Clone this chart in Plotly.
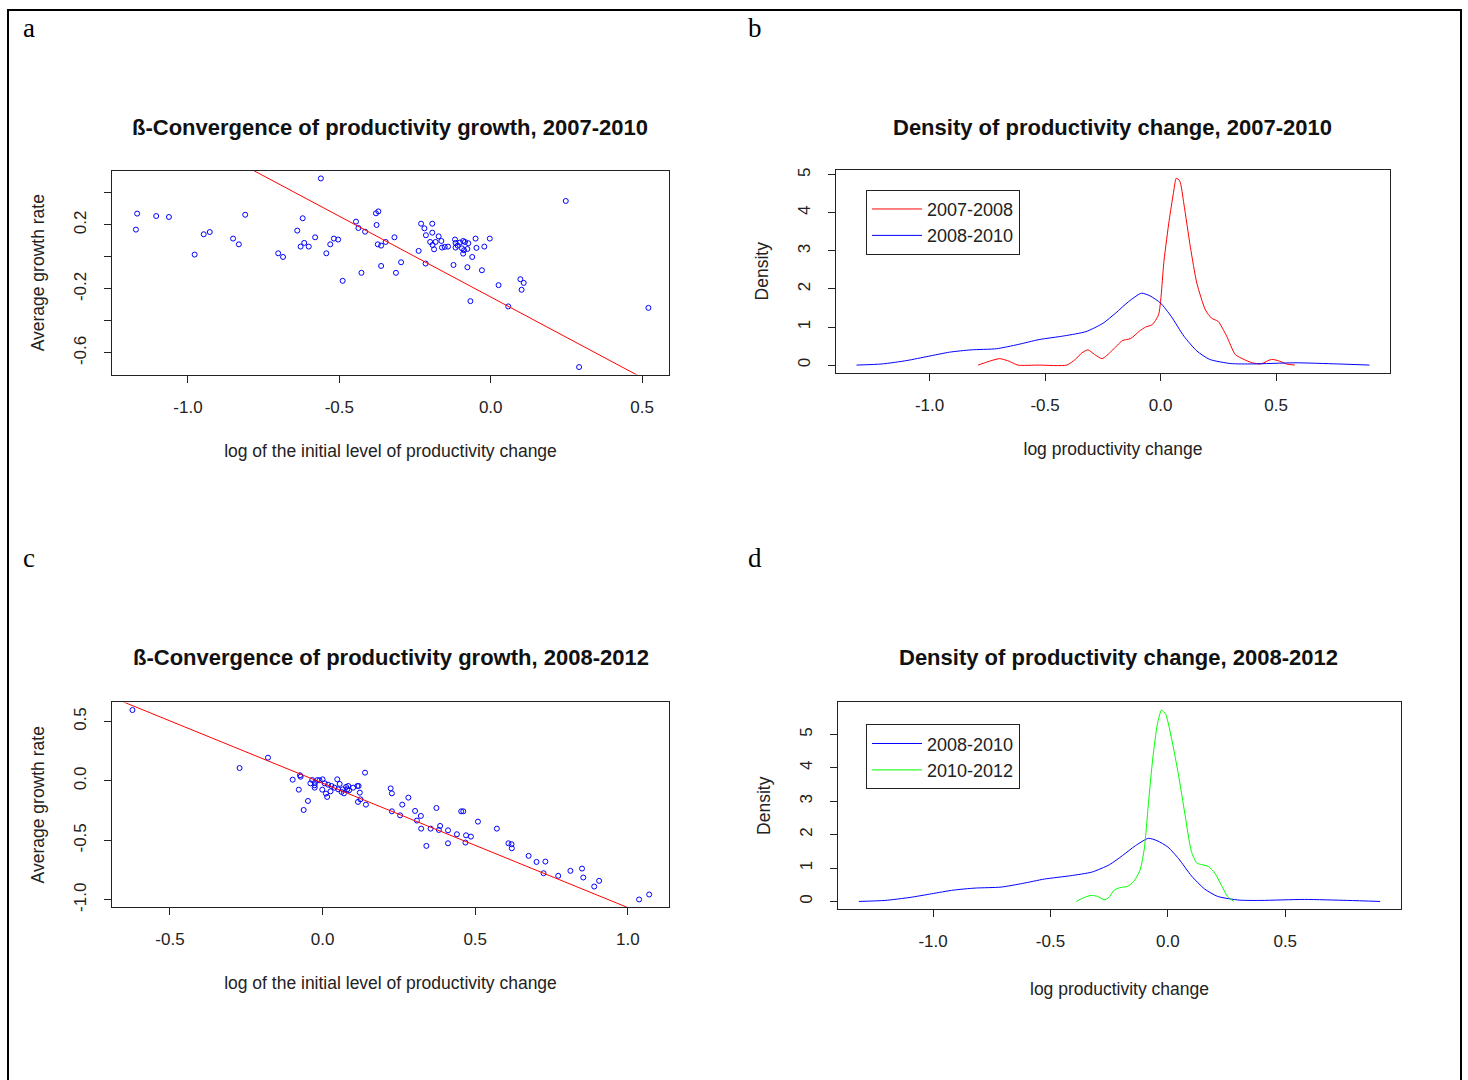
import plotly.graph_objects as go

# ---------------- Panel a: beta-convergence 2007-2010 ----------------
a_x = [-1.172, -1.168, -1.105, -1.063, -0.811, -0.978, -0.948, -0.928, -0.851, -0.832,
       -0.702, -0.686, -0.639, -0.621, -0.628, -0.616, -0.601, -0.580, -0.561, -0.543,
       -0.530, -0.518, -0.504, -0.489, -0.445, -0.437, -0.427, -0.415, -0.379, -0.371,
       -0.377, -0.373, -0.362, -0.362, -0.347, -0.318, -0.313, -0.296, -0.238, -0.230,
       -0.219, -0.214, -0.215, -0.193, -0.193, -0.200, -0.192, -0.187, -0.182, -0.172,
       -0.163, -0.161, -0.152, -0.141, -0.123, -0.118, -0.116, -0.116, -0.109, -0.102,
       -0.095, -0.091, -0.091, -0.088, -0.085, -0.077, -0.077, -0.074, -0.067, -0.061,
       -0.050, -0.047, -0.029, -0.021, -0.003, 0.026, 0.058, 0.098, 0.109, 0.102,
       0.248, 0.292, 0.521]
a_y = [0.171, 0.271, 0.256, 0.250, 0.264, 0.015, 0.142, 0.156, 0.115, 0.079,
       0.023, 0.000, 0.165, 0.242, 0.065, 0.088, 0.065, 0.123, 0.491, 0.023,
       0.079, 0.115, 0.109, -0.149, 0.221, 0.181, -0.099, 0.158, 0.273, 0.285,
       0.200, 0.079, 0.071, -0.056, 0.094, 0.123, -0.099, -0.033, 0.038, 0.208,
       0.179, 0.136, -0.041, 0.208, 0.152, 0.094, 0.075, 0.048, 0.094, 0.129,
       0.100, 0.059, 0.063, 0.065, -0.050, 0.109, 0.088, 0.059, 0.071, 0.090,
       0.054, 0.100, 0.021, 0.042, 0.094, 0.050, -0.064, 0.086, -0.276, 0.000,
       0.115, 0.057, -0.083, 0.065, 0.115, -0.176, -0.309, -0.139, -0.162, -0.205,
       0.350, -0.688, -0.318]
a_fit = {"intercept": -0.250, "slope": -1.009}

# ---------------- Panel c: beta-convergence 2008-2012 ----------------
c_x = [-0.623, -0.272, -0.179, -0.098, -0.078, -0.074, -0.072, -0.062, -0.048, -0.040,
       -0.034, -0.026, -0.026, -0.025, -0.017, -0.010, -0.001, 0.000, 0.007, 0.011,
       0.015, 0.018, 0.026, 0.029, 0.039, 0.048, 0.051, 0.056, 0.062, 0.066,
       0.070, 0.077, 0.081, 0.087, 0.084, 0.100, 0.114, 0.118, 0.116, 0.122,
       0.124, 0.139, 0.142, 0.223, 0.227, 0.227, 0.254, 0.261, 0.281, 0.303,
       0.309, 0.322, 0.323, 0.340, 0.354, 0.373, 0.381, 0.385, 0.411, 0.411,
       0.440, 0.454, 0.461, 0.468, 0.470, 0.486, 0.509, 0.571, 0.609, 0.619,
       0.620, 0.675, 0.701, 0.730, 0.724, 0.772, 0.812, 0.850, 0.854, 0.906,
       0.890, 1.037, 1.070]
c_y = [0.597, 0.109, 0.196, 0.011, -0.073, 0.048, 0.036, -0.244, -0.168, -0.020,
       0.008, -0.036, -0.056, -0.014, 0.008, 0.006, -0.073, 0.014, -0.020, -0.106,
       -0.134, -0.031, -0.087, -0.042, -0.056, 0.014, -0.070, -0.025, -0.092, -0.070,
       -0.104, -0.050, -0.070, -0.078, -0.042, -0.056, -0.042, -0.042, -0.176, -0.098,
       -0.154, 0.070, -0.199, -0.062, -0.104, -0.255, -0.289, -0.199, -0.140, -0.252,
       -0.333, -0.294, -0.401, -0.546, -0.401, -0.227, -0.412, -0.378, -0.415, -0.524,
       -0.448, -0.255, -0.255, -0.518, -0.457, -0.468, -0.342, -0.401, -0.524, -0.532,
       -0.566, -0.630, -0.681, -0.678, -0.776, -0.798, -0.756, -0.737, -0.812, -0.840,
       -0.888, -0.997, -0.955]
c_fit = {"intercept": -0.018, "slope": -1.047}

# ---------------- Density curves ----------------
dens_0810_x = [-1.316, -1.205, -1.098, -1.006, -0.913, -0.821, -0.710, -0.618, -0.526, -0.415,
               -0.323, -0.249, -0.194, -0.138, -0.083, -0.046, 0.000, 0.046, 0.101, 0.157,
               0.212, 0.304, 0.397, 0.581, 0.766, 0.904]
dens_0810_y = [0.00, 0.03, 0.12, 0.23, 0.34, 0.40, 0.43, 0.54, 0.67, 0.77,
               0.88, 1.10, 1.37, 1.67, 1.89, 1.82, 1.63, 1.28, 0.76, 0.37,
               0.15, 0.04, 0.03, 0.06, 0.03, 0.00]

dens_0708_x = [-0.790, -0.747, -0.697, -0.655, -0.618, -0.526, -0.406, -0.369, -0.341, -0.314,
               -0.286, -0.253, -0.212, -0.166, -0.129, -0.092, -0.065, -0.037, -0.009, 0.015,
               0.037, 0.055, 0.068, 0.083, 0.101, 0.129, 0.157, 0.194, 0.221, 0.249,
               0.286, 0.323, 0.360, 0.397, 0.434, 0.480, 0.517, 0.544, 0.581]
dens_0708_y = [0.00, 0.09, 0.17, 0.10, 0.00, 0.00, 0.00, 0.15, 0.32, 0.40,
               0.28, 0.17, 0.37, 0.64, 0.70, 0.89, 1.00, 1.06, 1.32, 2.76,
               3.80, 4.50, 4.91, 4.84, 4.23, 3.10, 2.15, 1.45, 1.23, 1.15,
               0.76, 0.28, 0.15, 0.06, 0.03, 0.15, 0.10, 0.03, 0.00]

dens_1012_x = [-0.390, -0.363, -0.327, -0.299, -0.272, -0.254, -0.227, -0.200, -0.172, -0.145,
               -0.118, -0.100, -0.082, -0.064, -0.045, -0.027, -0.009, 0.018, 0.045, 0.073,
               0.100, 0.123, 0.145, 0.172, 0.200, 0.227, 0.254, 0.281]
dens_1012_y = [0.00, 0.10, 0.18, 0.15, 0.05, 0.10, 0.35, 0.42, 0.45, 0.60,
               0.95, 1.60, 3.00, 4.30, 5.30, 5.73, 5.60, 4.80, 3.80, 2.60,
               1.50, 1.15, 1.10, 1.05, 0.85, 0.50, 0.15, 0.00]

# tick labels
a_yticks = [-0.6, -0.4, -0.2, 0.0, 0.2, 0.4]
a_yticktext = ["-0.6", "", "-0.2", "", "0.2", ""]
ab_xticks = [-1.0, -0.5, 0.0, 0.5]
ab_xticktext = ["-1.0", "-0.5", "0.0", "0.5"]
c_xticks = [-0.5, 0.0, 0.5, 1.0]
c_xticktext = ["-0.5", "0.0", "0.5", "1.0"]
c_yticks = [-1.0, -0.5, 0.0, 0.5]
c_yticktext = ["-1.0", "-0.5", "0.0", "0.5"]
dens_yticks = [0, 1, 2, 3, 4, 5]

# axis ranges
a_xr, a_yr = [-1.251, 0.589], [-0.735, 0.538]
c_xr, c_yr = [-0.690, 1.135], [-1.061, 0.661]
b_xr, b_yr = [-1.405, 0.993], [-0.197, 5.13]
d_xr, d_yr = [-1.405, 0.993], [-0.229, 5.96]

W, H = 1468, 1080
FONT = "Liberation Sans, Arial, sans-serif"


def px(x):
    return x / W


def py(y):
    return 1 - y / H


fig = go.Figure()

marker = dict(symbol="circle-open", size=5, color="#0000ff", line=dict(width=1, color="#0000ff"))
dens_line = dict(width=1, shape="spline", smoothing=0.6)

# Panel a
fig.add_trace(go.Scatter(x=a_x, y=a_y, mode="markers", marker=marker, xaxis="x", yaxis="y", showlegend=False))
fig.add_trace(go.Scatter(x=a_xr, y=[a_fit["intercept"] + a_fit["slope"] * v for v in a_xr], mode="lines",
                         line=dict(color="#ff0000", width=1), xaxis="x", yaxis="y", showlegend=False))
# Panel b
fig.add_trace(go.Scatter(x=dens_0708_x, y=dens_0708_y, mode="lines", name="2007-2008",
                         line=dict(dens_line, color="#ff0000"), xaxis="x2", yaxis="y2", legend="legend"))
fig.add_trace(go.Scatter(x=dens_0810_x, y=dens_0810_y, mode="lines", name="2008-2010",
                         line=dict(dens_line, color="#0000ff"), xaxis="x2", yaxis="y2", legend="legend"))
# Panel c
fig.add_trace(go.Scatter(x=c_x, y=c_y, mode="markers", marker=marker, xaxis="x3", yaxis="y3", showlegend=False))
fig.add_trace(go.Scatter(x=c_xr, y=[c_fit["intercept"] + c_fit["slope"] * v for v in c_xr], mode="lines",
                         line=dict(color="#ff0000", width=1), xaxis="x3", yaxis="y3", showlegend=False))
# Panel d
fig.add_trace(go.Scatter(x=dens_0810_x, y=dens_0810_y, mode="lines", name="2008-2010",
                         line=dict(dens_line, color="#0000ff"), xaxis="x4", yaxis="y4", legend="legend2"))
fig.add_trace(go.Scatter(x=dens_1012_x, y=dens_1012_y, mode="lines", name="2010-2012",
                         line=dict(dens_line, color="#00ff00"), xaxis="x4", yaxis="y4", legend="legend2"))

axis_common = dict(showline=True, mirror=True, linecolor="#222", linewidth=1, ticks="outside", ticklen=7,
                   tickcolor="#222", tickwidth=1, showgrid=False, zeroline=False,
                   tickfont=dict(family=FONT, size=17, color="#222"),
                   title_font=dict(family=FONT, size=17.5, color="#222"))

boxes = {
    "a": (112, 669, 170, 375),
    "b": (836, 1390, 169, 373),
    "c": (112, 669, 705, 911),
    "d": (838, 1401, 705, 913),
}


def dom(key):
    l, r, t, b = boxes[key]
    return [px(l), px(r)], [py(b), py(t)]


xa, ya = dom("a")
xb, yb = dom("b")
xc, yc = dom("c")
xd, yd = dom("d")

xstd = dict(ticklabelstandoff=10)
ystd = dict(ticklabelstandoff=11, tickangle=-90)

legend_style = dict(xanchor="left", yanchor="top", bgcolor="white", bordercolor="#222", borderwidth=1,
                    font=dict(family=FONT, size=18, color="#222"), itemwidth=50, tracegroupgap=0)

fig.update_layout(
    width=W, height=H, margin=dict(l=0, r=0, t=0, b=0),
    paper_bgcolor="white", plot_bgcolor="white",
    font=dict(family=FONT, color="#222"),
    xaxis=dict(axis_common, **xstd, domain=xa, anchor="y", range=a_xr, tickvals=ab_xticks, ticktext=ab_xticktext,
               title=dict(text="log of the initial level of productivity change", standoff=28)),
    yaxis=dict(axis_common, **ystd, domain=ya, anchor="x", range=a_yr, tickvals=a_yticks, ticktext=a_yticktext,
               title=dict(text="Average growth rate", standoff=22)),
    xaxis2=dict(axis_common, **xstd, domain=xb, anchor="y2", range=b_xr, tickvals=ab_xticks, ticktext=ab_xticktext,
                title=dict(text="log productivity change", standoff=28)),
    yaxis2=dict(axis_common, **ystd, domain=yb, anchor="x2", range=b_yr, tickvals=dens_yticks,
                title=dict(text="Density", standoff=22)),
    xaxis3=dict(axis_common, **xstd, domain=xc, anchor="y3", range=c_xr, tickvals=c_xticks, ticktext=c_xticktext,
                title=dict(text="log of the initial level of productivity change", standoff=28)),
    yaxis3=dict(axis_common, **ystd, domain=yc, anchor="x3", range=c_yr, tickvals=c_yticks, ticktext=c_yticktext,
                title=dict(text="Average growth rate", standoff=22)),
    xaxis4=dict(axis_common, **xstd, domain=xd, anchor="y4", range=d_xr, tickvals=ab_xticks, ticktext=ab_xticktext,
                title=dict(text="log productivity change", standoff=32)),
    yaxis4=dict(axis_common, **ystd, domain=yd, anchor="x4", range=d_yr, tickvals=dens_yticks,
                title=dict(text="Density", standoff=22)),
    legend=dict(legend_style, x=px(866), y=py(189)),
    legend2=dict(legend_style, x=px(866), y=py(727)),
)

# titles and panel letters
titles = [
    ("ß-Convergence of productivity growth, 2007-2010", 390, 126),
    ("Density of productivity change, 2007-2010", 1112, 126),
    ("ß-Convergence of productivity growth, 2008-2012", 391, 660),
    ("Density of productivity change, 2008-2012", 1118, 660),
]
for text, x, y in titles:
    fig.add_annotation(text="<b>%s</b>" % text, x=px(x), y=py(y), xref="paper", yref="paper", showarrow=False,
                       xanchor="center", yanchor="middle", font=dict(family=FONT, size=22, color="#111"))

letters = [("a", 29, 26), ("b", 755, 26), ("c", 29, 560), ("d", 755, 560)]
for text, x, y in letters:
    fig.add_annotation(text=text, x=px(x), y=py(y), xref="paper", yref="paper", showarrow=False,
                       xanchor="center", yanchor="middle",
                       font=dict(family="Liberation Serif, Times New Roman, serif", size=27, color="#000"))

# outer frame
fig.add_shape(type="rect", xref="paper", yref="paper", x0=px(8), x1=px(1461), y0=py(1095), y1=py(8),
              line=dict(color="#000", width=2), fillcolor="rgba(0,0,0,0)")

fig.write_html("out.html")
